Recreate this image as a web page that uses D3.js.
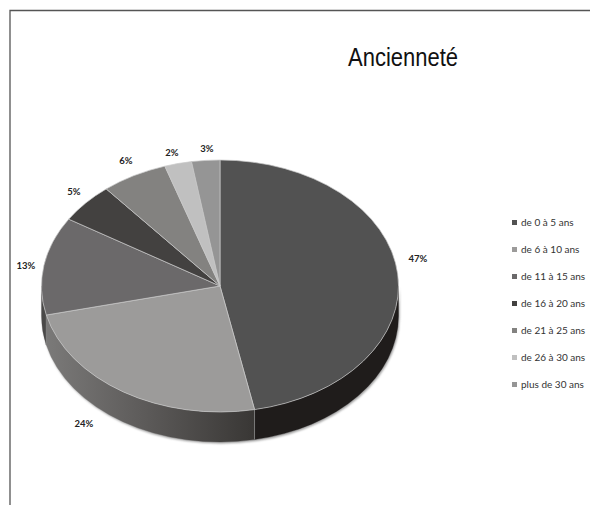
<!DOCTYPE html>
<html>
<head>
<meta charset="utf-8">
<script src="https://cdn.jsdelivr.net/npm/d3@7"></script>
<style>
  html, body { margin: 0; padding: 0; background: #fff; }
  svg { display: block; }
</style>
</head>
<body>
<svg id="chart"></svg>
<script>
const categories = ["de 0 à 5 ans", "de 6 à 10 ans", "de 11 à 15 ans", "de 16 à 20 ans",
                    "de 21 à 25 ans", "de 26 à 30 ans", "plus de 30 ans"];
// unrounded shares estimated from the slice edges, printed labels round them
const shares = [46.9, 24.4, 12.6, 5.1, 6.0, 2.45, 2.55];
const sliceColors = ["#525252", "#9c9b9a", "#6b696a", "#434140", "#838280", "#c0c0c0", "#959595"];
// label anchors, picture pixels
const labelX = [418, 84, 26, 74, 126, 172, 207];
const labelY = [259.5, 425, 266.5, 192.5, 162, 153.5, 149.5];

const width = 590, height = 506;
const cx = 220, cy = 286, rx = 178.5, ry = 126, depth = 30;

const svg = d3.select("#chart").attr("width", width).attr("height", height);
const defs = svg.append("defs");

const grad = defs.append("linearGradient")
  .attr("id", "wall").attr("gradientUnits", "userSpaceOnUse")
  .attr("x1", cx - rx).attr("x2", cx + 34).attr("y1", 0).attr("y2", 0);
grad.append("stop").attr("offset", 0).attr("stop-color", "#7c7b7a");
grad.append("stop").attr("offset", 0.45).attr("stop-color", "#5f5d5c");
grad.append("stop").attr("offset", 1).attr("stop-color", "#393735");

defs.append("filter").attr("id", "soft")
  .append("feGaussianBlur").attr("stdDeviation", 0.8);

// frame, only top and left sides show
svg.append("path")
  .attr("d", `M10,${height - 1}V10.5H${width}`)
  .attr("fill", "none")
  .attr("stroke", "#555")
  .attr("stroke-width", 1.3);

svg.append("text")
  .attr("x", 348).attr("y", 66)
  .attr("textLength", 110)
  .attr("lengthAdjust", "spacingAndGlyphs")
  .style("font-family", "'Liberation Sans Narrow', 'Liberation Sans', sans-serif")
  .style("font-size", "26px")
  .attr("fill", "#111")
  .text("Ancienneté");

const arcs = d3.pie().sort(null).value(d => d)(shares);

// arc on the tilted ellipse; angle 0 is up, clockwise
const sx = a => cx + rx * Math.sin(a);
const sy = a => cy - ry * Math.cos(a);

function wallPath(a0, a1) {
  return `M${sx(a0)},${sy(a0)}L${sx(a0)},${sy(a0) + depth}` +
         `A${rx},${ry} 0 0 1 ${sx(a1)},${sy(a1) + depth}` +
         `L${sx(a1)},${sy(a1)}` +
         `A${rx},${ry} 0 0 0 ${sx(a0)},${sy(a0)}Z`;
}

const rightEdge = Math.PI / 2, leftEdge = Math.PI * 1.5;

// soft shadow under the side wall
svg.append("path")
  .attr("d", wallPath(rightEdge, leftEdge))
  .attr("transform", "translate(1,1.5)")
  .attr("fill", "#9a9a9a")
  .attr("filter", "url(#soft)");

const wallFills = ["#1f1c1b", "url(#wall)", "#4a4948"];
arcs.forEach((d, i) => {
  const a0 = Math.max(d.startAngle, rightEdge);
  const a1 = Math.min(d.endAngle, leftEdge);
  if (a1 <= a0) return;
  svg.append("path")
    .attr("d", wallPath(a0, a1))
    .attr("fill", wallFills[i] || sliceColors[i])
    .attr("stroke", wallFills[i] || sliceColors[i])
    .attr("stroke-width", 0.3);
  if (i === 0) return;
  // light seam between walls
  svg.append("line")
    .attr("x1", sx(a0)).attr("x2", sx(a0))
    .attr("y1", sy(a0)).attr("y2", sy(a0) + depth)
    .attr("stroke", "#8c8c8c")
    .attr("stroke-width", 0.8);
});

// top face: circular arcs squashed into the ellipse
const arc = d3.arc().innerRadius(0).outerRadius(rx);
svg.append("g")
  .attr("transform", `translate(${cx},${cy}) scale(1,${ry / rx})`)
  .selectAll("path")
  .data(arcs)
  .join("path")
  .attr("d", arc)
  .attr("fill", (d, i) => sliceColors[i])
  .attr("stroke", "#c8c8c8")
  .attr("stroke-width", 0.7)
  .attr("vector-effect", "non-scaling-stroke");

svg.append("g")
  .selectAll("text")
  .data(shares)
  .join("text")
  .attr("x", (d, i) => labelX[i])
  .attr("y", (d, i) => labelY[i])
  .attr("text-anchor", "middle")
  .attr("dominant-baseline", "middle")
  .style("font-family", "Lato, sans-serif")
  .style("font-size", "9.5px")
  .style("font-weight", "bold")
  .attr("fill", "#222")
  .text(d => Math.round(d) + "%");

const legendY = d3.scalePoint().domain(categories).range([223, 385]);
const legend = svg.append("g")
  .selectAll("g")
  .data(categories)
  .join("g")
  .attr("transform", d => `translate(512,${legendY(d)})`);

legend.append("rect")
  .attr("x", 0).attr("y", -3)
  .attr("width", 5).attr("height", 5)
  .attr("fill", (d, i) => sliceColors[i]);

legend.append("text")
  .attr("x", 9).attr("y", 0)
  .attr("dominant-baseline", "middle")
  .style("font-family", "Lato, sans-serif")
  .style("font-size", "10px")
  .attr("fill", "#333")
  .text(d => d);
</script>
</body>
</html>
